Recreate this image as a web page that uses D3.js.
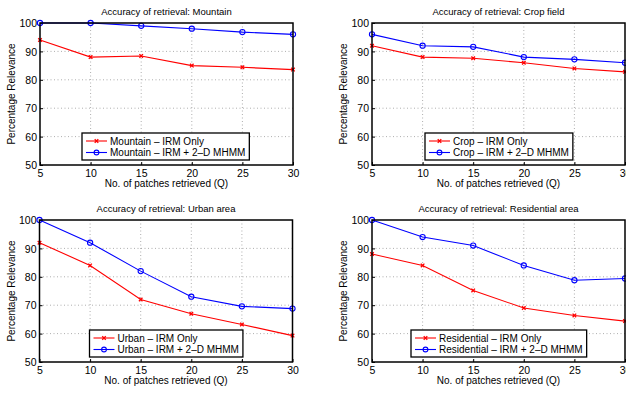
<!DOCTYPE html>
<html>
<head>
<meta charset="utf-8">
<script src="https://cdn.jsdelivr.net/npm/d3@7"></script>
<style>
  body { margin: 0; background: #fff; }
  svg { display: block; font-family: "Liberation Sans", Arial, sans-serif; }
</style>
</head>
<body>
<div id="chart"></div>
<script>
// number of patches retrieved
const patches = [5, 10, 15, 20, 25, 30];
const yTicks = [50, 60, 70, 80, 90, 100];

const mountainIrm = [94, 88, 88.4, 85, 84.4, 83.6];
const mountainMhmm = [100, 100, 99, 98, 96.8, 96];
const cropIrm = [92, 88, 87.6, 86, 84, 82.8];
const cropMhmm = [96, 92, 91.6, 88, 87.2, 86];
const urbanIrm = [92, 84, 72, 67, 63.2, 59.3];
const urbanMhmm = [100, 92, 82, 73, 69.6, 68.8];
const residentialIrm = [88, 84, 75.2, 69, 66.4, 64.4];
const residentialMhmm = [100, 94, 91, 84, 78.8, 79.4];

const titles = [
  'Accuracy of retrieval: Mountain',
  'Accuracy of retrieval: Crop field',
  'Accuracy of retrieval: Urban area',
  'Accuracy of retrieval: Residential area',
];
const names = ['Mountain', 'Crop', 'Urban', 'Residential'];

const panels = [
  { left: 40, top: 23, irm: mountainIrm, mhmm: mountainMhmm, legendX: 42 },
  { left: 372, top: 23, irm: cropIrm, mhmm: cropMhmm, legendX: 53 },
  { left: 39.5, top: 220, irm: urbanIrm, mhmm: urbanMhmm, legendX: 50 },
  { left: 372, top: 220, irm: residentialIrm, mhmm: residentialMhmm, legendX: 39 },
];

const W = 626, H = 393;
const pw = 253, ph = 142;

const svg = d3.select('#chart').append('svg')
  .attr('width', W).attr('height', H);

panels.forEach((p, i) => {
  const g = svg.append('g').attr('transform', `translate(${p.left},${p.top})`);

  const x = d3.scaleLinear().domain([5, 30]).range([0, pw]);
  const y = d3.scaleLinear().domain([50, 100]).range([ph, 0]);

  // dotted grid
  g.append('g').selectAll('line.gx')
    .data(patches.slice(1, -1))
    .join('line')
    .attr('x1', d => x(d)).attr('x2', d => x(d))
    .attr('y1', 0).attr('y2', ph)
    .attr('stroke', '#777').attr('stroke-width', 0.6)
    .attr('stroke-dasharray', '1,2.5');
  g.append('g').selectAll('line.gy')
    .data(yTicks.slice(1, -1))
    .join('line')
    .attr('y1', d => y(d)).attr('y2', d => y(d))
    .attr('x1', 0).attr('x2', pw)
    .attr('stroke', '#777').attr('stroke-width', 0.6)
    .attr('stroke-dasharray', '1,2.5');

  // axes, ticks inside like matlab
  const xAxis = g.append('g')
    .attr('transform', `translate(0,${ph})`)
    .call(d3.axisBottom(x).tickValues(patches).tickSizeInner(-3).tickSizeOuter(0).tickPadding(6));
  const yAxis = g.append('g')
    .call(d3.axisLeft(y).tickValues(yTicks).tickSizeInner(-3).tickSizeOuter(0).tickPadding(3));
  [xAxis, yAxis].forEach(a => {
    a.select('.domain').remove();
    a.selectAll('.tick line').attr('stroke', '#000');
    a.selectAll('text').attr('font-size', 10.5).attr('fill', '#000')
      .attr('font-family', '"Liberation Sans", Arial, sans-serif');
  });
  yAxis.selectAll('text').attr('dy', '0.36em');
  xAxis.selectAll('text').attr('dy', '0.55em');

  // lines
  const line = d3.line().x((d, k) => x(patches[k])).y(d => y(d));
  g.append('path').datum(p.irm)
    .attr('fill', 'none').attr('stroke', '#ff0000').attr('stroke-width', 1.1)
    .attr('d', line);
  g.append('path').datum(p.mhmm)
    .attr('fill', 'none').attr('stroke', '#0000ff').attr('stroke-width', 1.1)
    .attr('d', line);

  // markers
  const cross = d3.symbol().type(d3.symbolX).size(10);
  g.selectAll('path.xm').data(p.irm).join('path')
    .attr('class', 'xm')
    .attr('transform', (d, k) => `translate(${x(patches[k])},${y(d)})`)
    .attr('d', cross)
    .attr('fill', 'none').attr('stroke', '#ff0000').attr('stroke-width', 1.3);
  g.selectAll('circle.om').data(p.mhmm).join('circle')
    .attr('class', 'om')
    .attr('cx', (d, k) => x(patches[k])).attr('cy', d => y(d))
    .attr('r', 2.6)
    .attr('fill', 'none').attr('stroke', '#0000ff').attr('stroke-width', 1.1);

  // frame
  g.append('rect')
    .attr('width', pw).attr('height', ph)
    .attr('fill', 'none').attr('stroke', '#000').attr('stroke-width', 1.5);

  // titles and labels
  g.append('text')
    .attr('x', pw / 2).attr('y', -8)
    .attr('text-anchor', 'middle').attr('font-size', 9.5)
    .text(titles[i]);
  g.append('text')
    .attr('x', pw / 2).attr('y', ph + 22)
    .attr('text-anchor', 'middle').attr('font-size', 10)
    .text('No. of patches retrieved (Q)');
  g.append('text')
    .attr('transform', `translate(-25,${ph / 2}) rotate(-90)`)
    .attr('text-anchor', 'middle').attr('font-size', 10)
    .text('Percentage Relevance');

  // legend
  const labels = [`${names[i]} \u2013 IRM Only`, `${names[i]} \u2013 IRM + 2\u2013D MHMM`];
  const lg = g.append('g').attr('transform', `translate(${p.legendX},${ph - 32})`);
  const box = lg.append('rect')
    .attr('fill', '#fff').attr('stroke', '#000').attr('stroke-width', 1.3);
  const items = lg.selectAll('g.item').data(labels).join('g')
    .attr('transform', (d, k) => `translate(0,${8 + k * 11.5})`);
  items.append('line')
    .attr('x1', 4).attr('x2', 25)
    .attr('stroke', (d, k) => k ? '#0000ff' : '#ff0000').attr('stroke-width', 1.1);
  items.each(function (d, k) {
    const it = d3.select(this);
    if (k) {
      it.append('circle').attr('cx', 14.5).attr('r', 2.4)
        .attr('fill', 'none').attr('stroke', '#0000ff').attr('stroke-width', 1.1);
    } else {
      it.append('path').attr('transform', 'translate(14.5,0)').attr('d', cross)
        .attr('fill', 'none').attr('stroke', '#ff0000').attr('stroke-width', 1.3);
    }
  });
  items.append('text')
    .attr('x', 28).attr('dy', '0.35em').attr('font-size', 10)
    .text(d => d);
  const bw = d3.max(items.nodes(), n => n.getBBox().width) + 8;
  box.attr('width', bw).attr('height', 27);
});
</script>
</body>
</html>
